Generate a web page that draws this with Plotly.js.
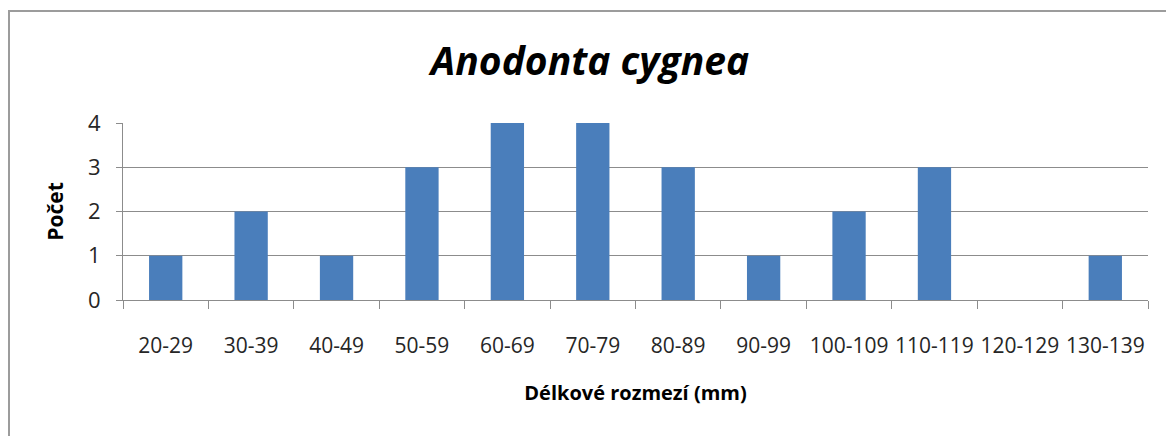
<!DOCTYPE html>
<html>
<head>
<meta charset="utf-8">
<script src="https://cdn.plot.ly/plotly-3.0.1.min.js"></script>
<style>
  html, body { margin: 0; padding: 0; background: #ffffff; }
  #wrap { position: relative; width: 1166px; height: 436px; overflow: hidden; background: #ffffff; }
  #frame { position: absolute; left: 8px; top: 10px; width: 1200px; height: 500px;
           border-left: 2px solid #9c9c9c; border-top: 2px solid #9c9c9c; box-sizing: border-box; pointer-events: none; z-index: 2; }
  #chart { position: absolute; left: 0; top: 0; width: 1166px; height: 436px; }
</style>
</head>
<body>
<div id="wrap">
  <div id="chart"></div>
  <div id="frame"></div>
</div>
<script>
const categories = ["20-29","30-39","40-49","50-59","60-69","70-79","80-89","90-99","100-109","110-119","120-129","130-139"];
const counts = [1, 2, 1, 3, 4, 4, 3, 1, 2, 3, 0, 1];
const yTicks = [0, 1, 2, 3, 4];
const chartTitle = "Anodonta cygnea";
const xTitle = "Délkové rozmezí (mm)";
const yTitle = "Počet";

const trace = {
  type: "bar",
  x: categories,
  y: counts,
  marker: { color: "#4A7EBB", line: { width: 0 } },
  hoverinfo: "x+y"
};

const layout = {
  width: 1166,
  height: 436,
  margin: { l: 123, r: 18, t: 123, b: 136, pad: 0 },
  paper_bgcolor: "#ffffff",
  plot_bgcolor: "#ffffff",
  bargap: 0.61,
  showlegend: false,
  font: { family: "Open Sans, sans-serif", color: "#262626" },
  title: {
    text: "<b><i>" + chartTitle + "</i></b>",
    font: { family: "Open Sans, sans-serif", size: 39, color: "#000000" },
    x: 0.506, xref: "container", xanchor: "center",
    y: 62, yref: "container", yanchor: "middle"
  },
  xaxis: {
    type: "category",
    tickson: "boundaries",
    tickangle: 0,
    ticks: "outside",
    ticklen: 8,
    tickwidth: 1,
    tickcolor: "#8c8c8c",
    showline: true,
    linecolor: "#8c8c8c",
    linewidth: 1,
    showgrid: false,
    zeroline: false,
    tickfont: { size: 21, color: "#262626" },
    ticklabelstandoff: 27,
    title: { text: "<b>" + xTitle + "</b>", font: { size: 20, color: "#000000" }, standoff: 27 }
  },
  yaxis: {
    range: [0, 4],
    tickvals: yTicks,
    ticks: "outside",
    ticklen: 6,
    tickwidth: 1,
    tickcolor: "#8c8c8c",
    showline: true,
    linecolor: "#8c8c8c",
    linewidth: 1,
    showgrid: true,
    gridcolor: "#8c8c8c",
    gridwidth: 1,
    zeroline: false,
    tickfont: { size: 22, color: "#262626" },
    ticklabelstandoff: 11,
    title: { text: "<b>" + yTitle + "</b>", font: { size: 21, color: "#000000" }, standoff: 18 }
  }
};

Plotly.newPlot("chart", [trace], layout, { displayModeBar: false, staticPlot: true });
</script>
</body>
</html>
